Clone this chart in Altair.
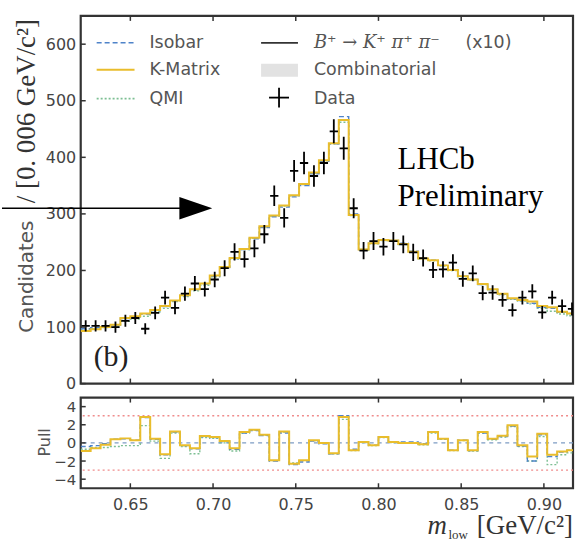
import altair as alt
import numpy as np
import pandas as pd

# ---- binning of m_low (GeV/c^2) ----
M_LO, M_HI = 0.620, 0.920
BIN_W = 0.006
X_VIEW_HI = 0.9176          # right edge of the visible window

# ---- candidates per bin ----
data_counts = [102, 102, 102, 100, 111, 116, 97, 125, 152, 134,
               159, 177, 167, 184, 204, 233, 220, 239, 264, 332,
               293, 376, 390, 367, 390, 446, 416, 310, 235, 252,
               242, 252, 246, 232, 222, 201, 202, 214, 185, 195,
               160, 161, 148, 130, 152, 163, 126, 152, 137, 132]

# ---- fit projections ----
kmatrix = [93, 96, 100, 104, 116, 119, 124, 130, 137, 147,
           156, 167, 177, 191, 206, 222, 238, 258, 278, 297,
           315, 333, 353, 373, 395, 425, 466, 298, 237, 248,
           254, 253, 247, 233, 221, 218, 209, 201, 190, 184,
           176, 167, 159, 151, 148, 145, 137, 135, 127, 124]
isobar = [97, 99, 101, 104, 115, 118, 123, 129, 136, 146,
          155, 166, 176, 190, 205, 221, 237, 256, 276, 295,
          312, 330, 350, 371, 393, 424, 472, 300, 237, 248,
          254, 253, 248, 234, 221, 218, 209, 201, 190, 184,
          175, 166, 158, 150, 147, 142, 135, 133, 126, 124]
qmi = [95, 97, 99, 101, 110, 114, 119, 127, 133, 145,
       154, 164, 174, 189, 204, 220, 237, 257, 277, 296,
       314, 332, 352, 372, 394, 424, 462, 297, 236, 247,
       253, 252, 246, 232, 220, 217, 208, 200, 189, 183,
       175, 166, 157, 149, 146, 141, 133, 128, 123, 120]

# ---- pulls ----
pull_kmatrix = [-0.9, -0.6, -0.2, 0.4, 0.5, 0.3, 2.85, 0.45, -1.25, 1.25,
                -0.25, -0.6, 0.75, 0.65, 0.2, -0.6, 1.2, 1.45, 0.9, -1.9,
                1.25, -2.3, -1.9, 0.3, 0.0, -1.15, 2.85, -0.8, 0.1, -0.25,
                0.65, 0.1, 0.0, 0.0, -0.15, 1.2, 0.45, -0.8, 0.3, -0.8,
                1.2, 0.45, 0.8, 1.95, -0.25, -1.5, 1.0, -1.3, -0.95, -0.8]
pull_isobar = [-0.4, -0.3, -0.1, 0.4, 0.45, 0.3, 2.8, 0.4, -1.3, 1.2,
               -0.3, -0.65, 0.7, 0.6, 0.15, -0.7, 1.1, 1.35, 0.8, -2.0,
               1.1, -2.4, -2.1, 0.2, -0.1, -1.2, 3.0, -0.7, 0.1, -0.25,
               0.65, 0.1, 0.1, 0.1, -0.1, 1.2, 0.45, -0.8, 0.3, -0.85,
               1.1, 0.4, 0.7, 1.85, -0.35, -2.0, 0.9, -1.5, -1.0, -0.8]
pull_qmi = [-0.7, -0.5, -0.5, -0.4, -0.3, -0.3, 1.9, 0.2, -1.7, 1.1,
            -0.4, -1.2, 0.6, 0.5, 0.0, -0.9, 1.1, 1.4, 0.85, -1.95,
            1.2, -2.2, -1.95, 0.25, -0.05, -1.2, 2.6, -0.85, 0.05, -0.3,
            0.6, 0.05, -0.05, 0.0, -0.2, 1.1, 0.4, -0.85, 0.25, -0.9,
            1.1, 0.35, 0.65, 1.8, -0.4, -2.0, 0.7, -2.4, -1.3, -1.1]

x_ticks = [0.65, 0.70, 0.75, 0.80, 0.85, 0.90]
y_ticks_main = [0, 100, 200, 300, 400, 500, 600]
y_ticks_pull = [-4, -2, 0, 2, 4]

# ---- colours ----
C_ISO = "#4f83c9"
C_KM = "#e9bd2c"
C_QMI = "#7dbf93"
C_TXT = "#555555"

W, H_MAIN, H_PULL = 494, 369, 91

n_bins = len(data_counts)
bin_lo = np.round(M_LO + BIN_W * np.arange(n_bins), 4)


def step_frame(values):
    """Bin low edges plus the closing edge, for a step-after histogram line."""
    return pd.DataFrame({"m": list(bin_lo) + [M_HI],
                         "v": list(values) + [values[-1]]})


xscale = alt.Scale(domain=[M_LO, X_VIEW_HI], nice=False, zero=False)
yscale_main = alt.Scale(domain=[0, 650], nice=False, zero=False)
yscale_pull = alt.Scale(domain=[-5, 5], nice=False, zero=False)

axis_y_main = alt.Axis(values=y_ticks_main, labelFontSize=16, labelColor="#444",
                       labelFont="DejaVu Sans", ticks=False, domain=False,
                       grid=False, labelPadding=5, title=None)
axis_y_pull = alt.Axis(values=y_ticks_pull, labelFontSize=15, labelColor="#444",
                       labelFont="DejaVu Sans", ticks=False, domain=False,
                       grid=False, labelPadding=5, title=None, format="d")
axis_x_pull = alt.Axis(values=x_ticks, labelFontSize=16, labelColor="#444",
                       labelFont="DejaVu Sans", ticks=False, domain=False,
                       grid=False, labelPadding=8, title=None, format=".2f")


def XM(field="m"):
    return alt.X(f"{field}:Q", scale=xscale, axis=None)


def XP(field="m"):
    return alt.X(f"{field}:Q", scale=xscale, axis=axis_x_pull)


def YM(field="v"):
    return alt.Y(f"{field}:Q", scale=yscale_main, axis=axis_y_main)


def YP(field="v"):
    return alt.Y(f"{field}:Q", scale=yscale_pull, axis=axis_y_pull)


def one_row():
    return pd.DataFrame({"k": [0]})


def text_at(txt, x, y, **kw):
    return alt.Chart(pd.DataFrame({"t": [txt]})).mark_text(**kw).encode(
        text="t:N", x=alt.value(x), y=alt.value(y))


def hrule(x1, x2, y, **kw):
    return alt.Chart(one_row()).mark_rule(**kw).encode(
        x=alt.value(x1), x2=alt.value(x2), y=alt.value(y))


def vrule(x, y1, y2, **kw):
    return alt.Chart(one_row()).mark_rule(**kw).encode(
        x=alt.value(x), y=alt.value(y1), y2=alt.value(y2))


# ================= main panel =================
iso_line = alt.Chart(step_frame(isobar)).mark_line(
    interpolate="step-after", color=C_ISO, strokeWidth=1.4, strokeDash=[5, 3],
    clip=True
).encode(x=XM(), y=YM())
qmi_line = alt.Chart(step_frame(qmi)).mark_line(
    interpolate="step-after", color=C_QMI, strokeWidth=1.4, strokeDash=[2, 2],
    clip=True
).encode(x=XM(), y=YM())
km_line = alt.Chart(step_frame(kmatrix)).mark_line(
    interpolate="step-after", color=C_KM, strokeWidth=2, clip=True
).encode(x=XM(), y=YM())

df_data = pd.DataFrame({"c": bin_lo + BIN_W / 2, "n": data_counts})
data_v = alt.Chart(df_data).transform_calculate(
    ylo="datum.n - sqrt(datum.n)", yhi="datum.n + sqrt(datum.n)"
).mark_rule(color="black", strokeWidth=1.8, clip=True).encode(
    x=XM("c"), y=YM("ylo"), y2=alt.Y2("yhi"))
data_h = alt.Chart(df_data).transform_calculate(
    xl="datum.c - 0.0025", xr="datum.c + 0.0025"
).mark_rule(color="black", strokeWidth=1.8, clip=True).encode(
    x=XM("xl"), x2=alt.X2("xr"), y=YM("n"))

# inward ticks
df_xt = pd.DataFrame({"m": x_ticks})
df_yt_main = pd.DataFrame({"v": y_ticks_main})
ticks_main = [
    alt.Chart(df_xt).mark_rule(color="#333", strokeWidth=1.5).encode(
        x=XM(), y=alt.value(0), y2=alt.value(5)),
    alt.Chart(df_xt).mark_rule(color="#333", strokeWidth=1.5).encode(
        x=XM(), y=alt.value(H_MAIN - 5), y2=alt.value(H_MAIN)),
    alt.Chart(df_yt_main).mark_rule(color="#333", strokeWidth=1.5).encode(
        y=YM(), x=alt.value(0), x2=alt.value(5)),
]

# legend, first column
legend = [
    hrule(16, 54, 27, color=C_ISO, strokeWidth=1.6, strokeDash=[5, 3]),
    hrule(16, 54, 54, color=C_KM, strokeWidth=2),
    hrule(16, 54, 83, color=C_QMI, strokeWidth=1.6, strokeDash=[2, 2]),
    text_at("Isobar", 69, 27, align="left", baseline="middle", fontSize=17.5,
            font="DejaVu Sans", color=C_TXT),
    text_at("K-Matrix", 69, 54, align="left", baseline="middle", fontSize=17.5,
            font="DejaVu Sans", color=C_TXT),
    text_at("QMI", 69, 83, align="left", baseline="middle", fontSize=17.5,
            font="DejaVu Sans", color=C_TXT),
    # second column
    hrule(181, 218, 27, color="#333", strokeWidth=1.8),
    alt.Chart(one_row()).mark_rect(color="#e2e2e2").encode(
        x=alt.value(181), x2=alt.value(218), y=alt.value(48), y2=alt.value(61)),
    hrule(189, 209, 82, color="black", strokeWidth=1.8),
    vrule(199, 72, 92, color="black", strokeWidth=1.8),
    text_at("B⁺  →  K⁺ π⁺ π⁻", 234, 27, align="left", baseline="middle",
            fontSize=18, font="DejaVu Serif", fontStyle="italic", color=C_TXT),
    text_at("(x10)", 386, 27, align="left", baseline="middle", fontSize=17.5,
            font="DejaVu Sans", color=C_TXT),
    text_at("Combinatorial", 234, 54, align="left", baseline="middle",
            fontSize=17.5, font="DejaVu Sans", color=C_TXT),
    text_at("Data", 234, 83, align="left", baseline="middle", fontSize=17.5,
            font="DejaVu Sans", color=C_TXT),
]

annotations_main = [
    text_at("Candidates", -54, 318, align="left", baseline="middle", angle=270,
            fontSize=20, font="DejaVu Sans", color=C_TXT),
    text_at("/ [0. 006 GeV/c²]", -54, 188, align="left", baseline="middle",
            angle=270, fontSize=27, font="Liberation Serif", color="#333"),
    text_at("(b)", 13, 351, align="left", baseline="alphabetic", fontSize=30,
            font="Liberation Serif", color="#222"),
    text_at("LHCb", 318, 154, align="left", baseline="alphabetic", fontSize=31,
            font="Liberation Serif", color="black"),
    text_at("Preliminary", 318, 191, align="left", baseline="alphabetic",
            fontSize=31, font="Liberation Serif", color="black"),
    # arrow
    hrule(-79, 104, 193, color="black", strokeWidth=1.5),
    alt.Chart(one_row()).mark_point(
        shape="M0,0L-1,-0.34L-1,0.34Z", filled=True, color="black",
        size=4356, opacity=1, strokeWidth=0
    ).encode(x=alt.value(132), y=alt.value(193)),
]

main = alt.layer(
    qmi_line, iso_line, km_line, data_v, data_h,
    *ticks_main, *legend, *annotations_main
).properties(width=W, height=H_MAIN)

# ================= pull panel =================
df_lines = pd.DataFrame({"v": [-3, 3]})
ref3 = alt.Chart(df_lines).mark_rule(color="#f08c8c", strokeWidth=1.4,
                                     strokeDash=[2, 3]).encode(y=YP())
ref0 = alt.Chart(pd.DataFrame({"v": [0]})).mark_rule(
    color="#7d9cc4", strokeWidth=1.2, strokeDash=[4, 4]).encode(y=YP())

p_qmi = alt.Chart(step_frame(pull_qmi)).mark_line(
    interpolate="step-after", color=C_QMI, strokeWidth=1.4, strokeDash=[2, 2],
    clip=True
).encode(x=XP(), y=YP())
p_iso = alt.Chart(step_frame(pull_isobar)).mark_line(
    interpolate="step-after", color=C_ISO, strokeWidth=1.4, strokeDash=[5, 3],
    clip=True
).encode(x=XP(), y=YP())
p_km = alt.Chart(step_frame(pull_kmatrix)).mark_line(
    interpolate="step-after", color=C_KM, strokeWidth=2, clip=True
).encode(x=XP(), y=YP())

df_yt_pull = pd.DataFrame({"v": y_ticks_pull})
ticks_pull = [
    alt.Chart(df_xt).mark_rule(color="#333", strokeWidth=1.5).encode(
        x=XP(), y=alt.value(0), y2=alt.value(5)),
    alt.Chart(df_xt).mark_rule(color="#333", strokeWidth=1.5).encode(
        x=XP(), y=alt.value(H_PULL - 5), y2=alt.value(H_PULL)),
    alt.Chart(df_yt_pull).mark_rule(color="#333", strokeWidth=1.5).encode(
        y=YP(), x=alt.value(0), x2=alt.value(5)),
]

annotations_pull = [
    text_at("Pull", -36, 45, align="center", baseline="middle", angle=270,
            fontSize=16, font="DejaVu Sans", color=C_TXT),
    text_at("m", 348, 137, align="left", baseline="alphabetic", fontSize=27,
            font="Liberation Serif", fontStyle="italic", color="#333"),
    text_at("low", 369, 142, align="left", baseline="alphabetic", fontSize=13,
            font="Liberation Serif", color="#333"),
    text_at("[GeV/c²]", 494, 137, align="right", baseline="alphabetic",
            fontSize=27, font="Liberation Serif", color="#333"),
]

pull = alt.layer(
    ref3, ref0, p_qmi, p_iso, p_km, *ticks_pull, *annotations_pull
).properties(width=W, height=H_PULL)

# the arrow's tail at x = -79 is the leftmost content, so the plot area
# starts 79 px from the page edge
chart = alt.vconcat(main, pull, spacing=14, bounds="flush").properties(
    padding={"left": 0, "top": 13, "right": 0, "bottom": 0},
    background="white",
).configure_view(stroke="#333", strokeWidth=2.2)

chart.save("out.html", embed_options={"renderer": "svg", "actions": False})
